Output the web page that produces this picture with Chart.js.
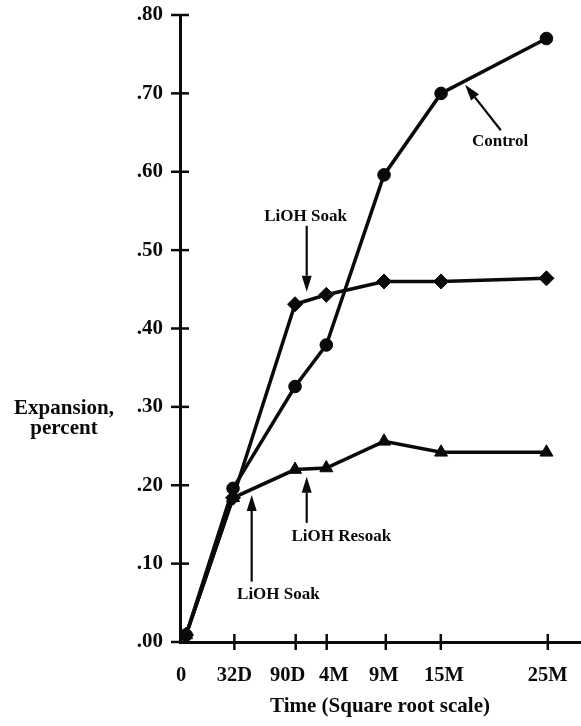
<!DOCTYPE html>
<html>
<head>
<meta charset="utf-8">
<title>Expansion vs time</title>
<script src="https://cdn.jsdelivr.net/npm/chart.js@4.4.1/dist/chart.umd.min.js"></script>
<style>
  html, body { margin: 0; padding: 0; background: #fff; }
  #wrap { width: 581px; height: 726px; position: relative; }
</style>
</head>
<body>
<div id="wrap"><canvas id="chart"></canvas></div>
<script>
/* Expansion (percent) against time on a square-root axis.
   Values. */

// tick labels and where they sit on the (square-root) time axis
var TIME_LABELS = ['0', '32D', '90D', '4M', '9M', '15M', '25M'];
var TIME_TICKS = [0, 4.05, 8.62, 10.93, 15.33, 19.43, 27.4];
var TIME_MAX = 29.8;

// x of the plotted points (first one sits just right of the origin)
var POINT_TIMES = [0.45, 3.95, 8.57, 10.9, 15.2, 19.45, 27.3];

var CONTROL = [0.009, 0.196, 0.326, 0.379, 0.596, 0.700, 0.770];
var LIOH_SOAK = [0.009, 0.184, 0.431, 0.443, 0.460, 0.460, 0.464];
var LIOH_RESOAK = [0.009, 0.184, 0.220, 0.222, 0.256, 0.242, 0.242];

var Y_TICKS = [0, 0.1, 0.2, 0.3, 0.4, 0.5, 0.6, 0.7, 0.8];

// callouts, in data units: text anchor + arrow tail -> tip
var NOTES = [
  { text: 'LiOH Soak', tx: 9.35, ty: 0.543, ax: 9.44, ay: 0.531, bx: 9.44, by: 0.447 },
  { text: 'Control', tx: 23.85, ty: 0.638, ax: 23.9, ay: 0.653, bx: 21.24, by: 0.711 },
  { text: 'LiOH Resoak', tx: 12.02, ty: 0.134, ax: 9.44, ay: 0.152, bx: 9.44, by: 0.211 },
  { text: 'LiOH Soak', tx: 7.33, ty: 0.060, ax: 5.34, ay: 0.077, bx: 5.34, by: 0.1876 }
];

(function () {
  'use strict';

  var INK = '#0a0a0a';
  var SERIF = "'Liberation Serif', 'Times New Roman', serif";
  // the crowded 90D / 4M labels are pushed apart in the original
  var LABEL_NUDGE = [1, 0, -8, 7, -2, 3, 0];

  function pts(values) {
    return values.map(function (v, i) { return { x: POINT_TIMES[i], y: v }; });
  }

  function series(label, values, style, radius) {
    return {
      label: label,
      data: pts(values),
      borderColor: INK,
      backgroundColor: INK,
      borderWidth: 3.5,
      tension: 0,
      pointStyle: style,
      pointRadius: radius,
      pointBorderWidth: 1,
      pointBorderColor: INK,
      pointBackgroundColor: INK
    };
  }

  // cross tick marks, time labels, callouts, horizontal y title
  var decor = {
    id: 'decor',
    afterDraw: function (chart) {
      var ctx = chart.ctx;
      var xs = chart.scales.x;
      var ys = chart.scales.y;
      var area = chart.chartArea;

      ctx.save();
      ctx.strokeStyle = INK;
      ctx.fillStyle = INK;
      ctx.lineWidth = 2.5;
      Y_TICKS.forEach(function (v) {
        var y = ys.getPixelForValue(v);
        ctx.beginPath();
        ctx.moveTo(area.left - 9, y);
        ctx.lineTo(area.left + 9, y);
        ctx.stroke();
      });
      ctx.font = 'bold 20.5px ' + SERIF;
      ctx.textAlign = 'center';
      ctx.textBaseline = 'middle';
      TIME_TICKS.forEach(function (t, i) {
        var x = xs.getPixelForValue(t);
        if (t !== 0) {
          ctx.beginPath();
          ctx.moveTo(x, area.bottom - 8);
          ctx.lineTo(x, area.bottom + 8);
          ctx.stroke();
        }
        ctx.fillText(TIME_LABELS[i], x + LABEL_NUDGE[i], area.bottom + 34);
      });

      // callouts
      ctx.font = 'bold 17px ' + SERIF;
      NOTES.forEach(function (n) {
        ctx.fillText(n.text, xs.getPixelForValue(n.tx), ys.getPixelForValue(n.ty));
        var x1 = xs.getPixelForValue(n.ax), y1 = ys.getPixelForValue(n.ay);
        var x2 = xs.getPixelForValue(n.bx), y2 = ys.getPixelForValue(n.by);
        var ang = Math.atan2(y2 - y1, x2 - x1);
        var head = 16, half = 5;
        var hx = x2 - head * Math.cos(ang), hy = y2 - head * Math.sin(ang);
        ctx.lineWidth = 2.2;
        ctx.beginPath();
        ctx.moveTo(x1, y1);
        ctx.lineTo(hx, hy);
        ctx.stroke();
        ctx.beginPath();
        ctx.moveTo(x2, y2);
        ctx.lineTo(hx + half * Math.sin(ang), hy - half * Math.cos(ang));
        ctx.lineTo(hx - half * Math.sin(ang), hy + half * Math.cos(ang));
        ctx.closePath();
        ctx.fill();
      });

      // y title, written flat to the left of the axis
      ctx.font = 'bold 21px ' + SERIF;
      ctx.fillText('Expansion,', 64, 409);
      ctx.fillText('percent', 64, 429);
      ctx.restore();
    }
  };

  function init() {
    var ctx = document.getElementById('chart').getContext('2d');
    Chart.defaults.font.family = SERIF;
    Chart.defaults.color = INK;

    new Chart(ctx, {
      type: 'line',
      data: {
        datasets: [
          series('LiOH Resoak', LIOH_RESOAK, 'triangle', 7.5),
          series('LiOH Soak', LIOH_SOAK, 'rectRot', 7.5),
          series('Control', CONTROL, 'circle', 6.3)
        ]
      },
      options: {
        responsive: true,
        maintainAspectRatio: false,
        animation: false,
        layout: { autoPadding: false, padding: { top: 15, right: 1, bottom: 0, left: 0 } },
        plugins: {
          legend: { display: false },
          tooltip: { enabled: false }
        },
        scales: {
          x: {
            type: 'linear',
            min: 0,
            max: TIME_MAX,
            afterBuildTicks: function (s) {
              s.ticks = TIME_TICKS.map(function (t) { return { value: t }; });
            },
            afterFit: function (s) {
              s.height = 84;
              s.paddingLeft = 0;
              s.paddingRight = 0;
            },
            ticks: { display: false },
            grid: { display: false, drawTicks: false },
            border: { display: true, width: 3, color: INK },
            title: {
              display: true,
              text: 'Time (Square root scale)',
              font: { size: 21, weight: 'bold' },
              padding: { top: 0, bottom: 7 }
            }
          },
          y: {
            min: 0,
            max: 0.8,
            afterBuildTicks: function (s) {
              s.ticks = Y_TICKS.map(function (v) { return { value: v }; });
            },
            afterFit: function (s) {
              s.width = 180;
              s.paddingTop = 0;
              s.paddingBottom = 0;
            },
            ticks: {
              padding: 17,
              font: { size: 21, weight: 'bold' },
              callback: function (v) { return '.' + Math.round(v * 100).toString().padStart(2, '0'); }
            },
            grid: { display: false, drawTicks: false },
            border: { display: true, width: 3, color: INK }
          }
        }
      },
      plugins: [decor]
    });
  }

  if (document.readyState === 'loading') {
    document.addEventListener('DOMContentLoaded', init);
  } else {
    init();
  }
})();
</script>
</body>
</html>
